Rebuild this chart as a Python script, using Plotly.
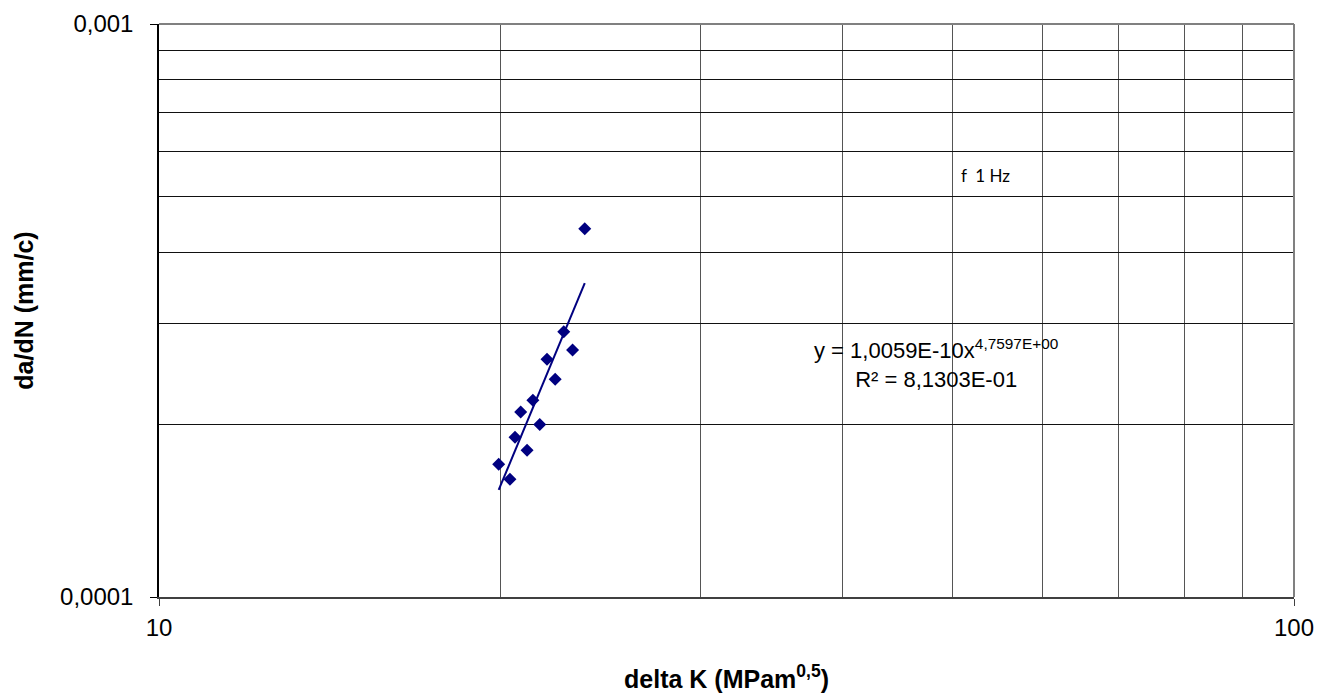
import numpy as np
import plotly.graph_objects as go

# Crack growth data: stress intensity range vs growth rate
delta_k = [19.92, 20.38, 20.59, 20.83, 21.10, 21.35, 21.65, 21.97, 22.34, 22.73, 23.14, 23.72]
dadn = [1.704e-4, 1.605e-4, 1.900e-4, 2.103e-4, 1.803e-4, 2.204e-4,
        2.001e-4, 2.599e-4, 2.399e-4, 2.904e-4, 2.698e-4, 4.393e-4]

# Power-law fit (Paris law) as reported in the equation label
fit_c = 1.0059e-10
fit_m = 4.7597

x_ticks = [10, 100]
x_ticktext = ["10", "100"]
y_ticks = [0.0001, 0.001]
y_ticktext = ["0,0001", "0,001"]
x_minor = [20, 30, 40, 50, 60, 70, 80, 90]
y_minor = [2e-4, 3e-4, 4e-4, 5e-4, 6e-4, 7e-4, 8e-4, 9e-4]

fit_x = np.linspace(min(delta_k), max(delta_k), 50)
fit_y = fit_c * fit_x ** fit_m

font_family = "Liberation Sans, Arial, sans-serif"

fig = go.Figure()
fig.add_trace(go.Scatter(
    x=fit_x, y=fit_y, mode="lines",
    line=dict(color="#000080", width=2), showlegend=False, hoverinfo="skip"))
fig.add_trace(go.Scatter(
    x=delta_k, y=dadn, mode="markers",
    marker=dict(symbol="diamond", size=10, color="#000080"), showlegend=False))

fig.update_layout(
    width=1318, height=693,
    margin=dict(l=159, r=24, t=24, b=96),
    paper_bgcolor="white", plot_bgcolor="white",
    font=dict(family=font_family, color="black"),
    xaxis=dict(
        type="log", range=[1, 2], automargin=False,
        tickvals=x_ticks, ticktext=x_ticktext,
        ticks="outside", ticklen=7, tickcolor="#404040",
        tickfont=dict(size=24), ticklabelstandoff=1,
        showline=True, linecolor="#404040", linewidth=1.5,
        showgrid=False, zeroline=False,
        minor=dict(tickvals=x_minor, showgrid=True, gridcolor="#555555", gridwidth=1, ticks=""),
        title=dict(text="<b>delta K (MPam<sup>0,5</sup>)</b>", font=dict(size=25), standoff=32),
    ),
    yaxis=dict(
        type="log", range=[-4, -3], automargin=False,
        tickvals=y_ticks, ticktext=y_ticktext,
        ticks="outside", ticklen=7, tickcolor="black",
        tickfont=dict(size=24), ticklabelstandoff=12,
        showline=True, linecolor="black", linewidth=1.5,
        showgrid=False, zeroline=False,
        minor=dict(tickvals=y_minor, showgrid=True, gridcolor="#111111", gridwidth=1, ticks=""),
        title=dict(text="<b>da/dN (mm/c)</b>", font=dict(size=25), standoff=19),
    ),
    shapes=[
        dict(type="line", xref="paper", yref="paper", x0=0, x1=1, y0=1, y1=1,
             line=dict(color="#808080", width=2)),
        dict(type="line", xref="paper", yref="paper", x0=1, x1=1, y0=0, y1=1,
             line=dict(color="#808080", width=2)),
    ],
    annotations=[
        dict(x=np.log10(53.5), y=np.log10(5.45e-4), xref="x", yref="y",
             text="f  1 Hz", showarrow=False,
             font=dict(family="Lato, Open Sans, sans-serif", size=17)),
        dict(x=np.log10(48.4), y=np.log10(2.56e-4), xref="x", yref="y",
             text="y = 1,0059E-10x<sup>4,7597E+00</sup><br>R² = 8,1303E-01",
             showarrow=False, align="center",
             font=dict(size=22)),
    ],
)

fig.write_html("out.html")
